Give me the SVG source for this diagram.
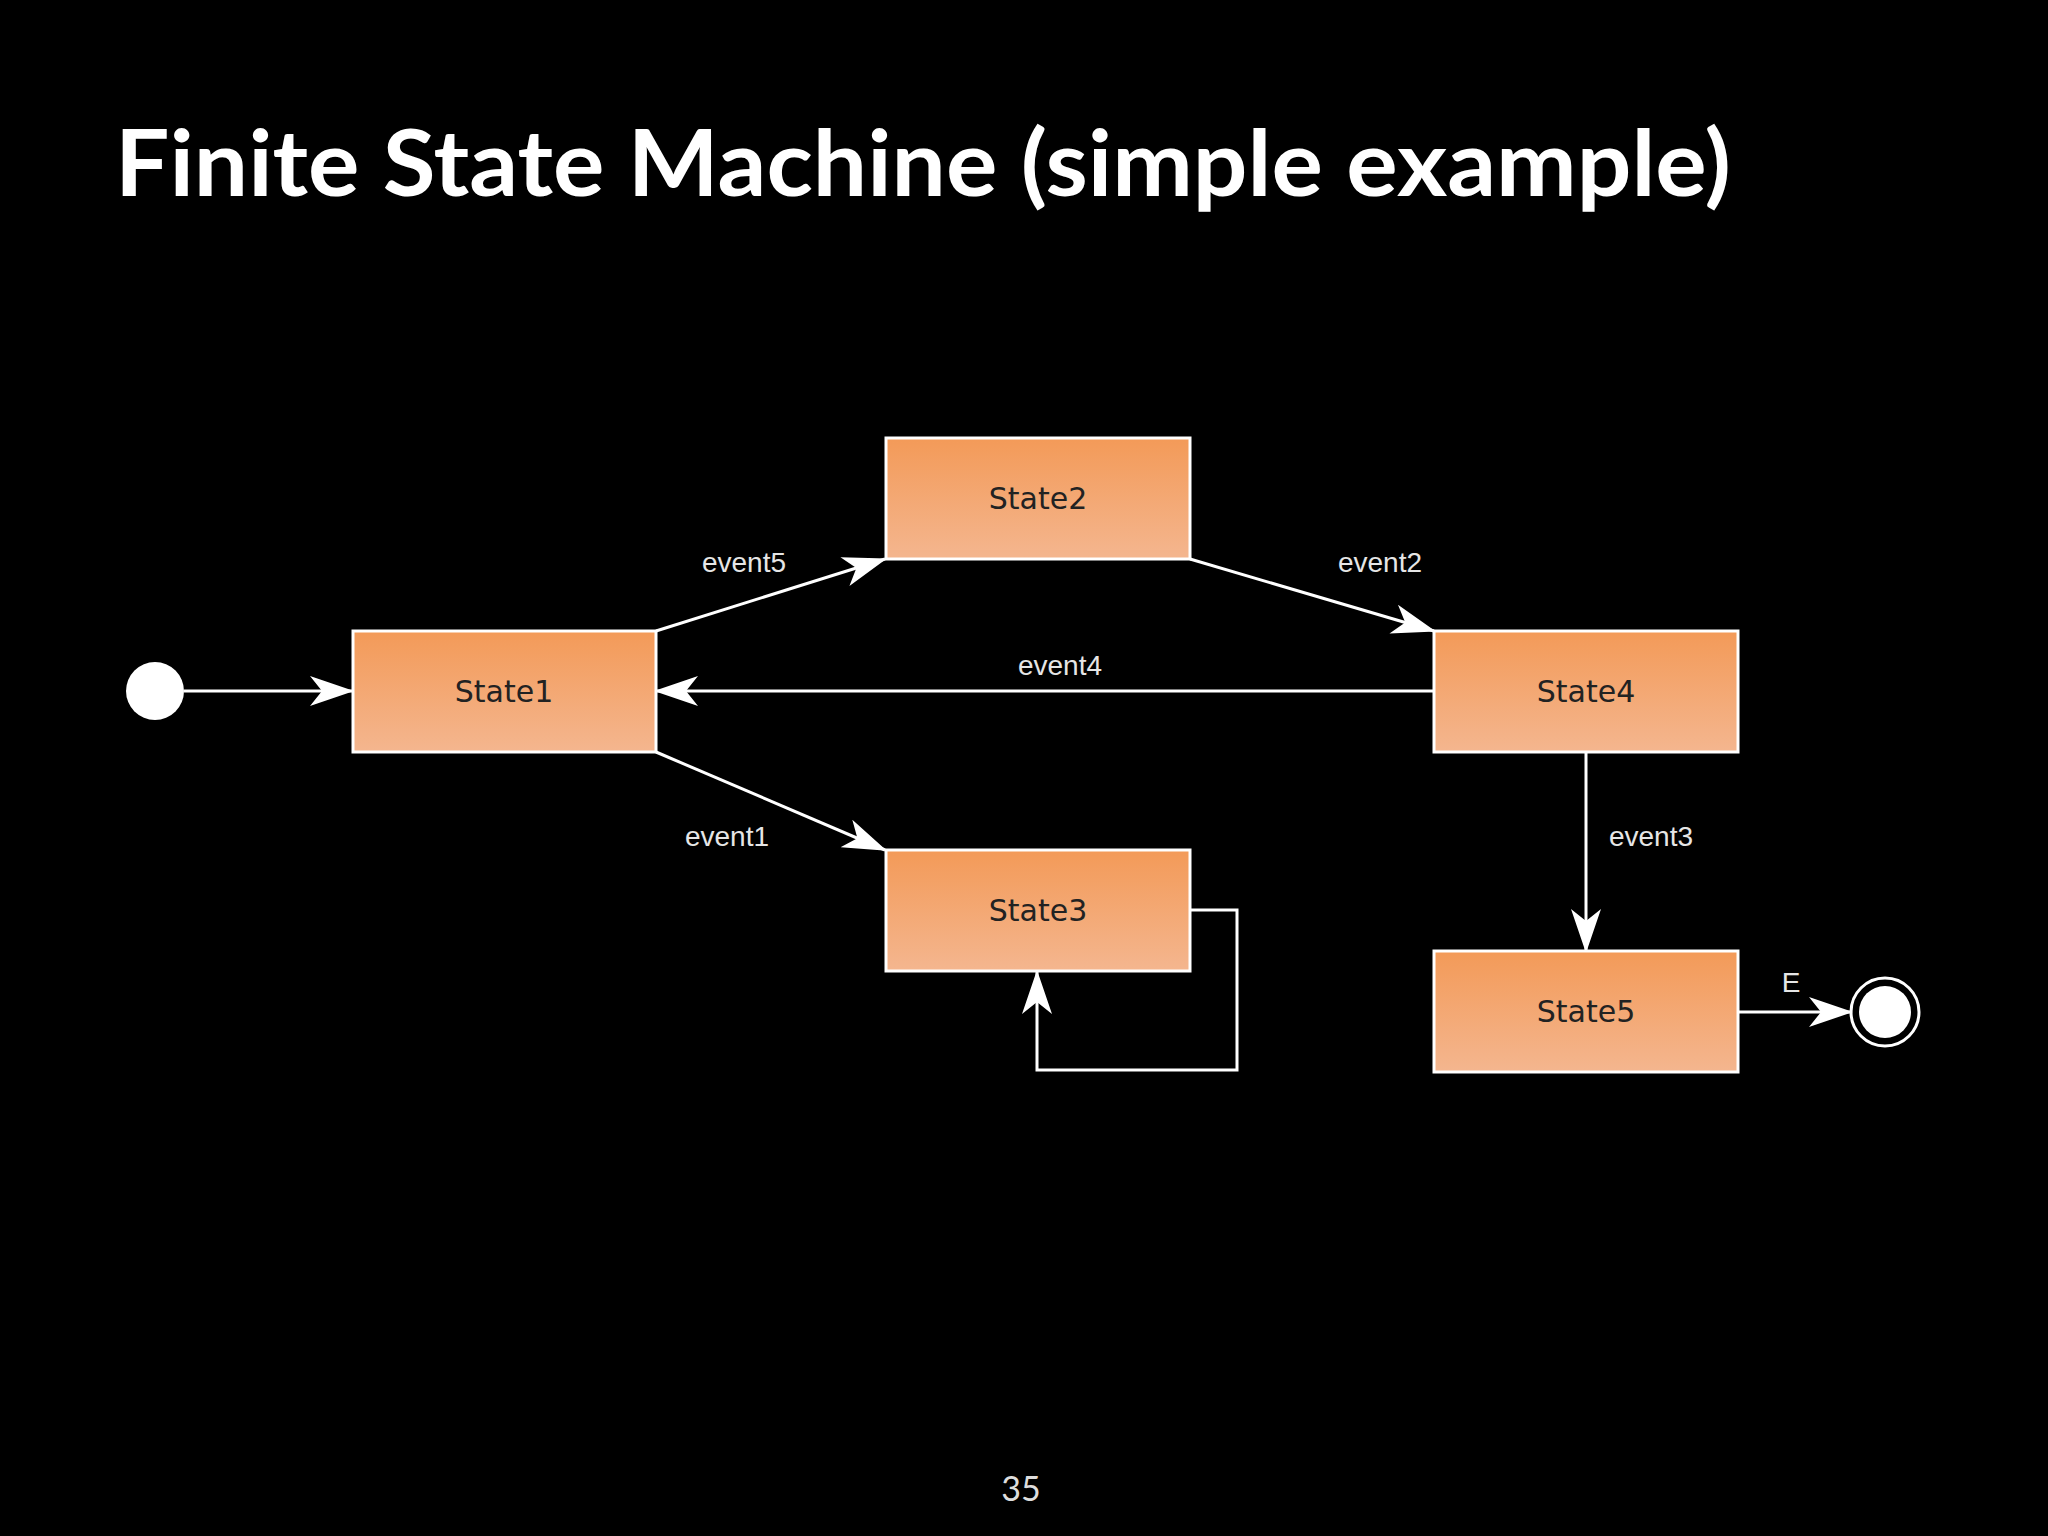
<svg xmlns="http://www.w3.org/2000/svg" width="2048" height="1536" viewBox="0 0 2048 1536">
<style>
.box{stroke:#fff;stroke-width:3;fill:url(#g)}
.nt{font-family:"DejaVu Sans",sans-serif;font-size:30px;fill:#222;text-anchor:middle}
.lbl{font-family:"Liberation Sans",Arial,sans-serif;font-size:28px;fill:#e6e6e6;text-anchor:middle}
.c{stroke:#fff;stroke-width:3;fill:none}
</style>
<defs>
<linearGradient id="g" x1="0" y1="0" x2="0" y2="1"><stop offset="0" stop-color="#f39a58"/><stop offset="1" stop-color="#f4b68f"/></linearGradient>
<marker id="a" viewBox="0 0 44 30" refX="42" refY="15" markerWidth="44" markerHeight="30" markerUnits="userSpaceOnUse" orient="auto"><path d="M0,0 L44,15 L0,30 L12,15 z" fill="#fff"/></marker>
</defs>
<rect width="2048" height="1536" fill="#000"/>
<text x="115" y="196" font-family="Lato,'Open Sans',sans-serif" font-weight="bold" font-size="92" fill="#fff" textLength="1616" lengthAdjust="spacingAndGlyphs">Finite State Machine (simple example)</text>
<g id="connectors">
<line class="c" x1="184" y1="691" x2="352" y2="691" marker-end="url(#a)"/>
<line class="c" x1="656" y1="631" x2="885" y2="559" marker-end="url(#a)"/>
<line class="c" x1="1190" y1="559" x2="1434" y2="631" marker-end="url(#a)"/>
<line class="c" x1="1434" y1="691" x2="656" y2="691" marker-end="url(#a)"/>
<line class="c" x1="656" y1="752" x2="885" y2="850" marker-end="url(#a)"/>
<line class="c" x1="1586" y1="752" x2="1586" y2="951" marker-end="url(#a)"/>
<polyline class="c" points="1190,910 1237,910 1237,1070 1037,1070 1037,972" marker-end="url(#a)"/>
<line class="c" x1="1738" y1="1012" x2="1851" y2="1012" marker-end="url(#a)"/>
<text class="lbl" x="744" y="572">event5</text>
<text class="lbl" x="1380" y="572">event2</text>
<text class="lbl" x="1060" y="675">event4</text>
<text class="lbl" x="727" y="846">event1</text>
<text class="lbl" x="1651" y="846">event3</text>
<text class="lbl" x="1791" y="992">E</text>
</g>
<g id="start"><circle cx="155" cy="691" r="29" fill="#fff"/></g>
<g id="end"><circle cx="1885" cy="1012" r="34" fill="none" stroke="#fff" stroke-width="3"/><circle cx="1885" cy="1012" r="26" fill="#fff"/></g>
<g id="state1"><rect class="box" x="353" y="631" width="303" height="121"/><text class="nt" x="504" y="702">State1</text></g>
<g id="state2"><rect class="box" x="886" y="438" width="304" height="121"/><text class="nt" x="1038" y="509">State2</text></g>
<g id="state3"><rect class="box" x="886" y="850" width="304" height="121"/><text class="nt" x="1038" y="921">State3</text></g>
<g id="state4"><rect class="box" x="1434" y="631" width="304" height="121"/><text class="nt" x="1586" y="702">State4</text></g>
<g id="state5"><rect class="box" x="1434" y="951" width="304" height="121"/><text class="nt" x="1586" y="1022">State5</text></g>
<text x="1021" y="1501" font-family="Lato,sans-serif" font-size="34" fill="#ddd" text-anchor="middle">35</text>
</svg>
